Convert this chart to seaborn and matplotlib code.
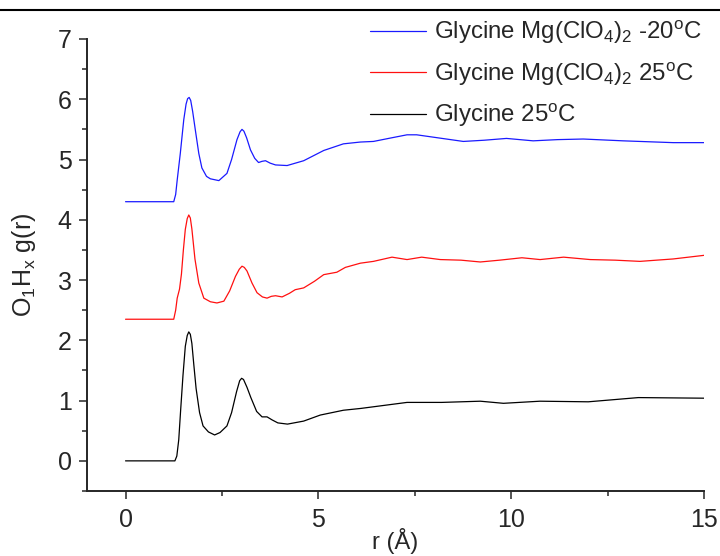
import pandas as pd
import matplotlib.pyplot as plt
import seaborn as sns
from matplotlib.lines import Line2D

# g(r) curves (r in Angstrom)
r_gly = [0, 1.28, 1.33, 1.38, 1.43, 1.49, 1.55, 1.6, 1.64, 1.68, 1.72, 1.77, 1.83, 1.92,
         2.01, 2.15, 2.31, 2.45, 2.63, 2.75, 2.88, 2.96, 3.01, 3.06, 3.15, 3.25,
         3.4, 3.54, 3.67, 3.8, 3.95, 4.2, 4.62, 5.05, 5.65, 6.1,
         7.3, 8.2, 9.2, 9.8, 10.75, 12.0, 13.3, 15.0]
g_gly = [0, 0, 0.08, 0.35, 0.85, 1.42, 1.9, 2.08, 2.14, 2.1, 1.95, 1.6, 1.2, 0.8,
         0.58, 0.48, 0.43, 0.47, 0.58, 0.8, 1.15, 1.33, 1.37, 1.35, 1.22, 1.05,
         0.82, 0.73, 0.73, 0.68, 0.63, 0.61, 0.66, 0.76, 0.84, 0.87,
         0.97, 0.97, 0.99, 0.955, 0.99, 0.98, 1.05, 1.04]

r_mg25 = [0, 1.25, 1.3, 1.34, 1.4, 1.45, 1.5, 1.55, 1.6, 1.64, 1.68, 1.72, 1.8, 1.9,
          2.03, 2.2, 2.37, 2.55, 2.7, 2.85, 2.95, 3.02, 3.08, 3.15, 3.28,
          3.41, 3.55, 3.67, 3.78, 3.89, 4.06, 4.25, 4.4, 4.62, 4.9,
          5.14, 5.48, 5.7, 6.09, 6.43, 6.91, 7.3, 7.68, 8.16, 8.7,
          9.2, 9.7, 10.28, 10.75, 11.36, 12.05, 12.7, 13.34, 14.2, 15.0]
g_mg25 = [2.35, 2.35, 2.5, 2.70, 2.85, 3.1, 3.5, 3.84, 4.02, 4.08, 4.03, 3.85, 3.35, 2.95,
          2.70, 2.64, 2.62, 2.65, 2.82, 3.06, 3.18, 3.23, 3.21, 3.15, 2.95,
          2.79, 2.72, 2.70, 2.73, 2.74, 2.72, 2.78, 2.84, 2.87, 2.98,
          3.09, 3.13, 3.21, 3.28, 3.31, 3.38, 3.34, 3.38, 3.34, 3.33,
          3.30, 3.33, 3.37, 3.34, 3.38, 3.34, 3.33, 3.31, 3.35, 3.41]

r_mgm20 = [0, 1.25, 1.3, 1.34, 1.42, 1.51, 1.57, 1.61, 1.65, 1.69, 1.74, 1.81, 1.9,
           1.98, 2.1, 2.2, 2.42, 2.63, 2.75, 2.89, 2.97, 3.02, 3.07, 3.14, 3.24,
           3.35, 3.45, 3.54, 3.63, 3.75, 3.89, 4.19, 4.62, 5.14, 5.65,
           6.09, 6.43, 6.9, 7.3, 7.55, 8.1, 8.76, 9.3, 9.88, 10.57,
           11.2, 11.87, 12.9, 14.2, 15.0]
g_mgm20 = [4.30, 4.30, 4.42, 4.66, 5.1, 5.66, 5.92, 6.01, 6.03, 5.98, 5.8, 5.49, 5.1,
           4.86, 4.72, 4.68, 4.65, 4.77, 5.0, 5.33, 5.46, 5.50, 5.47, 5.36, 5.16,
           5.02, 4.95, 4.97, 4.98, 4.94, 4.91, 4.90, 4.98, 5.15, 5.26,
           5.29, 5.30, 5.36, 5.41, 5.41, 5.36, 5.30, 5.32, 5.35, 5.31,
           5.33, 5.34, 5.31, 5.28, 5.28]

labels = [r'Glycine Mg(ClO$_4$)$_2$ -20$^\mathrm{o}$C',
          r'Glycine Mg(ClO$_4$)$_2$ 25$^\mathrm{o}$C',
          r'Glycine 25$^\mathrm{o}$C']
colors = ['#1a1aff', '#ff1010', 'black']

df = pd.concat([
    pd.DataFrame({'r': r_mgm20, 'g': g_mgm20, 'sample': labels[0]}),
    pd.DataFrame({'r': r_mg25, 'g': g_mg25, 'sample': labels[1]}),
    pd.DataFrame({'r': r_gly, 'g': g_gly, 'sample': labels[2]}),
])

sns.set_style('ticks')
plt.rcParams['font.family'] = ['Liberation Sans', 'DejaVu Sans']
plt.rcParams['mathtext.fontset'] = 'custom'
plt.rcParams['mathtext.rm'] = 'Liberation Sans'
plt.rcParams['mathtext.it'] = 'Liberation Sans:italic'

fig = plt.figure(figsize=(7.2, 5.56), dpi=100)
ax = fig.add_axes([0.1208, 0.1169, 0.8569, 0.8130])

sns.lineplot(data=df, x='r', y='g', hue='sample', hue_order=labels,
             palette=dict(zip(labels, colors)), linewidth=0.9,
             errorbar=None, ax=ax)

ax.set_xlim(-1, 15)
ax.set_ylim(-0.5, 7)
ax.set_xticks([0, 5, 10, 15])
ax.set_xticks([2.5, 7.5, 12.5], minor=True)
ax.set_yticks(range(0, 8))
ax.set_yticks([x + 0.5 for x in range(-1, 7)], minor=True)

sns.despine(ax=ax)
for s in ['left', 'bottom']:
    ax.spines[s].set_linewidth(1.4)
ax.tick_params(which='major', length=6, width=1.1, labelsize=18)
ax.tick_params(which='minor', length=3.3, width=1.1)
ax.tick_params(axis='x', pad=6)
ax.tick_params(axis='y', pad=5)

ax.set_xlabel('r (Å)', fontsize=17, labelpad=-3)
ax.set_ylabel(r'O$_1$H$_\mathrm{x}$ g(r)', fontsize=18, labelpad=14)

handles, lbls = ax.get_legend_handles_labels()
ax.legend(handles, lbls, loc='upper left', bbox_to_anchor=(370 / 720, 0.966),
          bbox_transform=fig.transFigure, frameon=False, fontsize=17.3,
          handlelength=2.35, handletextpad=0.3, borderpad=0, borderaxespad=0,
          labelspacing=0.6)

# rule across the top of the figure
fig.add_artist(Line2D([0, 1], [0.982, 0.982], transform=fig.transFigure,
                      color='black', linewidth=1.5))

plt.savefig('out.png', dpi=100)
